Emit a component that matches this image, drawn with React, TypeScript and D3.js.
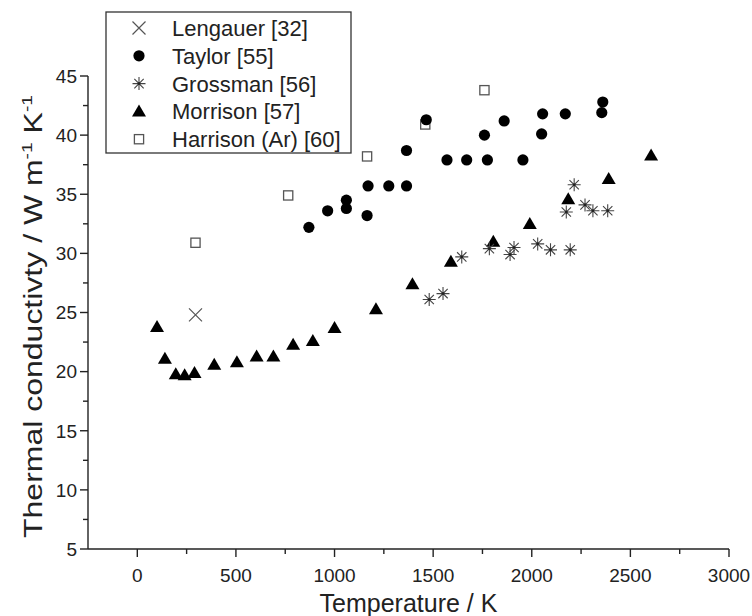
import React, { useRef, useEffect } from 'react';
import * as d3 from 'd3';

// [temperature K, conductivity W/m/K]
const lengauer: [number, number][] = [[295, 24.8]];

const taylor: [number, number][] = [
  [870, 32.2], [965, 33.6], [1060, 34.5], [1060, 33.8], [1165, 33.2],
  [1170, 35.7], [1275, 35.7], [1365, 35.7], [1365, 38.7], [1465, 41.3],
  [1570, 37.9], [1670, 37.9], [1775, 37.9], [1760, 40.0], [1860, 41.2],
  [1955, 37.9], [2050, 40.1], [2055, 41.8], [2170, 41.8], [2355, 41.9],
  [2360, 42.8]
];

const grossman: [number, number][] = [
  [1480, 26.1], [1550, 26.6], [1645, 29.7], [1785, 30.4], [1890, 29.9],
  [1910, 30.5], [2030, 30.8], [2095, 30.3], [2195, 30.3], [2175, 33.5],
  [2215, 35.8], [2270, 34.1], [2310, 33.6], [2385, 33.6]
];

const morrison: [number, number][] = [
  [100, 23.8], [140, 21.1], [195, 19.8], [240, 19.7], [290, 19.9],
  [390, 20.6], [505, 20.8], [605, 21.3], [690, 21.3], [790, 22.3],
  [890, 22.6], [1000, 23.7], [1210, 25.3], [1395, 27.4], [1590, 29.3],
  [1805, 31.0], [1990, 32.5], [2185, 34.6], [2390, 36.3], [2605, 38.3]
];

const harrison: [number, number][] = [
  [295, 30.9], [765, 34.9], [1165, 38.2], [1460, 40.9], [1760, 43.8]
];

const xTicks = [0, 500, 1000, 1500, 2000, 2500, 3000];
const yTicks = [5, 10, 15, 20, 25, 30, 35, 40, 45];

const legendItems = [
  { name: 'Lengauer [32]', kind: 'cross' },
  { name: 'Taylor [55]', kind: 'circle' },
  { name: 'Grossman [56]', kind: 'star' },
  { name: 'Morrison [57]', kind: 'triangle' },
  { name: 'Harrison (Ar) [60]', kind: 'square' }
];

const FONT = '"Liberation Sans", Arial, sans-serif';

function drawMarker(g: d3.Selection<SVGGElement, unknown, null, undefined>, kind: string) {
  if (kind === 'circle') {
    g.append('circle').attr('r', 5.6).attr('fill', '#000');
  } else if (kind === 'triangle') {
    g.append('path').attr('d', 'M0,-6.8L7,5.2L-7,5.2Z').attr('fill', '#000');
  } else if (kind === 'square') {
    g.append('rect')
      .attr('x', -4.6).attr('y', -4.6).attr('width', 9.2).attr('height', 9.2)
      .attr('fill', '#fff').attr('stroke', '#555').attr('stroke-width', 1.3);
  } else if (kind === 'cross') {
    g.append('path').attr('d', 'M-6.5,-6.5L6.5,6.5M-6.5,6.5L6.5,-6.5')
      .attr('stroke', '#555').attr('stroke-width', 1.2).attr('fill', 'none');
  } else if (kind === 'star') {
    const r = 6.5, d = r * 0.72;
    g.append('path')
      .attr('d', `M0,${-r}V${r}M${-r},0H${r}M${-d},${-d}L${d},${d}M${-d},${d}L${d},${-d}`)
      .attr('stroke', '#444').attr('stroke-width', 1.1).attr('fill', 'none');
    g.append('circle').attr('r', 1.3).attr('fill', '#222');
  }
}

function ScatterChart() {
  const svgRef = useRef<SVGSVGElement>(null);

  useEffect(() => {
    const svg = d3.select(svgRef.current);
    svg.selectAll('*').remove();

    const x = d3.scaleLinear().domain([-250, 3000]).range([88, 729]);
    const y = d3.scaleLinear().domain([5, 45]).range([549, 76]);

    const axis = svg.append('g').attr('stroke', '#222').attr('stroke-width', 1.4);

    // x axis line + ticks
    axis.append('line')
      .attr('x1', x(-250)).attr('x2', x(3000))
      .attr('y1', y(5)).attr('y2', y(5));
    axis.selectAll('.xmaj').data(xTicks).enter().append('line')
      .attr('x1', d => x(d)).attr('x2', d => x(d))
      .attr('y1', y(5)).attr('y2', y(5) + 8);
    axis.selectAll('.xmin').data(xTicks.slice(0, -1).map(d => d + 250)).enter().append('line')
      .attr('x1', d => x(d)).attr('x2', d => x(d))
      .attr('y1', y(5)).attr('y2', y(5) + 5);

    // y axis line + ticks
    axis.append('line')
      .attr('x1', x(-250)).attr('x2', x(-250))
      .attr('y1', y(5)).attr('y2', y(45));
    axis.selectAll('.ymaj').data(yTicks).enter().append('line')
      .attr('x1', x(-250) - 8).attr('x2', x(-250))
      .attr('y1', d => y(d)).attr('y2', d => y(d));
    axis.selectAll('.ymin').data(yTicks.slice(0, -1).map(d => d + 2.5)).enter().append('line')
      .attr('x1', x(-250) - 5).attr('x2', x(-250))
      .attr('y1', d => y(d)).attr('y2', d => y(d));

    // tick labels
    svg.append('g').selectAll('text').data(xTicks).enter().append('text')
      .attr('x', d => x(d)).attr('y', y(5) + 33)
      .attr('text-anchor', 'middle')
      .attr('font-family', FONT).attr('font-size', 19).attr('fill', '#222')
      .text(d => d);

    svg.append('g').selectAll('text').data(yTicks).enter().append('text')
      .attr('x', x(-250) - 11).attr('y', d => y(d))
      .attr('dy', '0.36em')
      .attr('text-anchor', 'end')
      .attr('font-family', FONT).attr('font-size', 19).attr('fill', '#222')
      .text(d => d);

    // axis titles
    svg.append('text')
      .attr('x', (x(-250) + x(3000)) / 2).attr('y', 612)
      .attr('text-anchor', 'middle')
      .attr('font-family', FONT).attr('font-size', 25).attr('fill', '#222')
      .text('Temperature / K');

    // title is stretched along its length, as in the source figure
    const yt = svg.append('text')
      .attr('transform', `translate(42,${(y(5) + y(45)) / 2 + 4}) rotate(-90) scale(1.28,1)`)
      .attr('text-anchor', 'middle')
      .attr('font-family', FONT).attr('font-size', 25).attr('fill', '#222');
    yt.append('tspan').text('Thermal conductivty / W m');
    yt.append('tspan').attr('font-size', 15).attr('dy', -10).text('-1');
    yt.append('tspan').attr('dy', 10).text(' K');
    yt.append('tspan').attr('font-size', 15).attr('dy', -10).text('-1');

    // data
    const series: { data: [number, number][]; kind: string }[] = [
      { data: harrison, kind: 'square' },
      { data: lengauer, kind: 'cross' },
      { data: taylor, kind: 'circle' },
      { data: morrison, kind: 'triangle' },
      { data: grossman, kind: 'star' }
    ];
    series.forEach(s => {
      s.data.forEach(([t, k]) => {
        const g = svg.append('g').attr('transform', `translate(${x(t)},${y(k)})`);
        drawMarker(g, s.kind);
      });
    });

    // legend
    const lg = svg.append('g');
    lg.append('rect')
      .attr('x', 106).attr('y', 12).attr('width', 245).attr('height', 141)
      .attr('fill', '#fff').attr('stroke', '#333').attr('stroke-width', 1.3);
    legendItems.forEach((item, i) => {
      const cy = 28 + i * 27.8;
      const g = lg.append('g').attr('transform', `translate(139,${cy})`);
      drawMarker(g, item.kind);
      lg.append('text')
        .attr('x', 172).attr('y', cy).attr('dy', '0.36em')
        .attr('font-family', FONT).attr('font-size', 22).attr('fill', '#222')
        .text(item.name);
    });
  }, []);

  return <svg ref={svgRef} width={752} height={616} style={{ display: 'block' }} />;
}

export default function App() {
  return (
    <div style={{ position: 'absolute', left: 0, top: 0, width: 752, height: 616, background: '#fff' }}>
      <ScatterChart />
    </div>
  );
}
